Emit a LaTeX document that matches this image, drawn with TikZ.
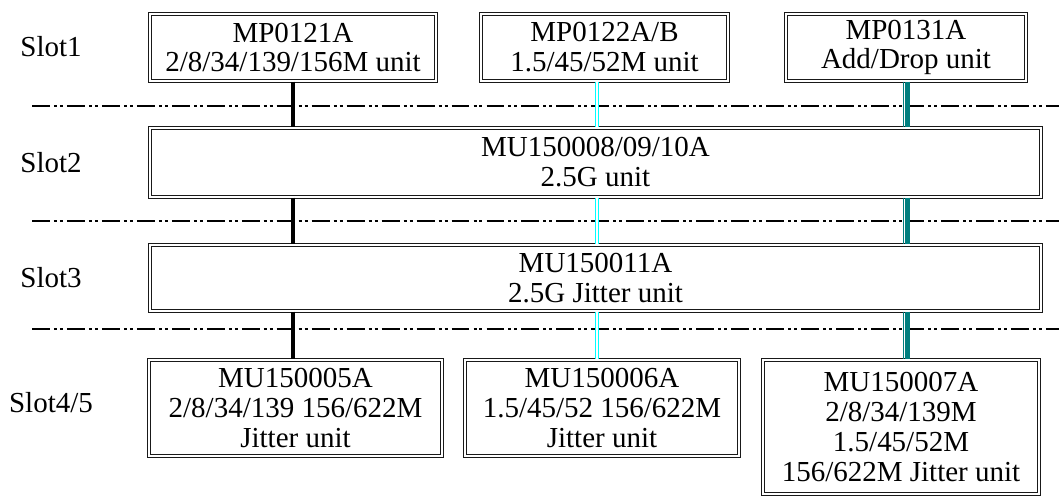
\documentclass[tikz,border=0pt]{standalone}
\usepackage{fontspec}
\setmainfont{Liberation Serif}
\usepackage{xcolor}
\usepackage{tikz}
\usetikzlibrary{positioning}

\definecolor{busteal}{HTML}{007F7F}
\definecolor{buscyan}{HTML}{00FFFF}

\begin{document}
\begin{tikzpicture}[x=0.02cm, y=-0.02cm,
    unit/.style={draw=black!90, double, double distance=1.1pt, line width=0.75pt,
                 align=center, inner sep=0pt, font=\fontsize{16.5}{17}\selectfont},
    slotlabel/.style={align=center, inner sep=0pt, font=\fontsize{16.5}{17}\selectfont},
    sep/.style={line width=1.1pt,
                dash pattern=on 10.2pt off 2.3pt on 1.7pt off 1.7pt on 1.7pt off 2.3pt},
    blackbus/.style={line width=2.4pt, black},
    cyanbus/.style={draw=buscyan, double=white, double distance=1.2pt, line width=0.8pt},
    tealbus/.style={line width=2.8pt, busteal}
]
\useasboundingbox (0,0) rectangle (1059,499);

% slot 1
\node[unit, minimum width=5.72cm, minimum height=1.34cm] (b1) at (293,47.5)
  {MP0121A\\2/8/34/139/156M unit};
\node[unit, minimum width=4.94cm, minimum height=1.34cm] (b2) at (604.5,47.5)
  {MP0122A/B\\1.5/45/52M unit};
\node[unit, minimum width=4.8cm, minimum height=1.34cm] (b3) at (906,47.5)
  {MP0131A\\Add/Drop unit};

% slot 2 and 3
\node[unit, minimum width=17.82cm, minimum height=1.38cm] (s2) at (595.5,162.5)
  {MU150008/09/10A\\2.5G unit};
\node[unit, minimum width=17.82cm, minimum height=1.32cm] (s3) at (595.5,278)
  {MU150011A\\2.5G Jitter unit};

% slot 4/5
\node[unit, minimum width=5.86cm, minimum height=1.92cm] (u5) at (295.5,408)
  {MU150005A\\2/8/34/139 156/622M\\Jitter unit};
\node[unit, minimum width=5.48cm, minimum height=1.92cm] (u6) at (602,408)
  {MU150006A\\1.5/45/52 156/622M\\Jitter unit};
\node[unit, minimum width=5.52cm, minimum height=2.68cm] (u7) at (901,427)
  {MU150007A\\2/8/34/139M\\1.5/45/52M\\156/622M Jitter unit};

\node[slotlabel] (l1) at (51,47) {Slot1};
\node[slotlabel] (l2) at (51,163) {Slot2};
\node[slotlabel] (l3) at (51,278) {Slot3};
\node[slotlabel] (l4) at (51,403) {Slot4/5};

% separators
\coordinate (sl) at (32,0);
\coordinate (sr) at (1059,0);
\draw[sep] (sl |- 0,106) -- (sr |- 0,106);
\draw[sep] (sl |- 0,221) -- (sr |- 0,221);
\draw[sep] (sl |- 0,329) -- (sr |- 0,329);

% buses
\coordinate (xk) at (293,0);
\coordinate (xc) at (597,0);
\coordinate (xt) at (907.5,0);
\coordinate (xs) at (903,0);

\draw[blackbus] (b1.south -| xk) -- (s2.north -| xk);
\draw[blackbus] (s2.south -| xk) -- (s3.north -| xk);
\draw[blackbus] (s3.south -| xk) -- (u5.north -| xk);

\draw[cyanbus] (b2.south -| xc) -- (s2.north -| xc);
\draw[cyanbus] (s2.south -| xc) -- (s3.north -| xc);
\draw[cyanbus] (s3.south -| xc) -- (u6.north -| xc);

\foreach \a/\b in {b3/s2, s2/s3, s3/u7} {
  \draw[tealbus] (\a.south -| xt) -- (\b.north -| xt);
  \draw[busteal, line width=0.5pt] (\a.south -| xs) -- (\b.north -| xs);
}
\end{tikzpicture}
\end{document}
